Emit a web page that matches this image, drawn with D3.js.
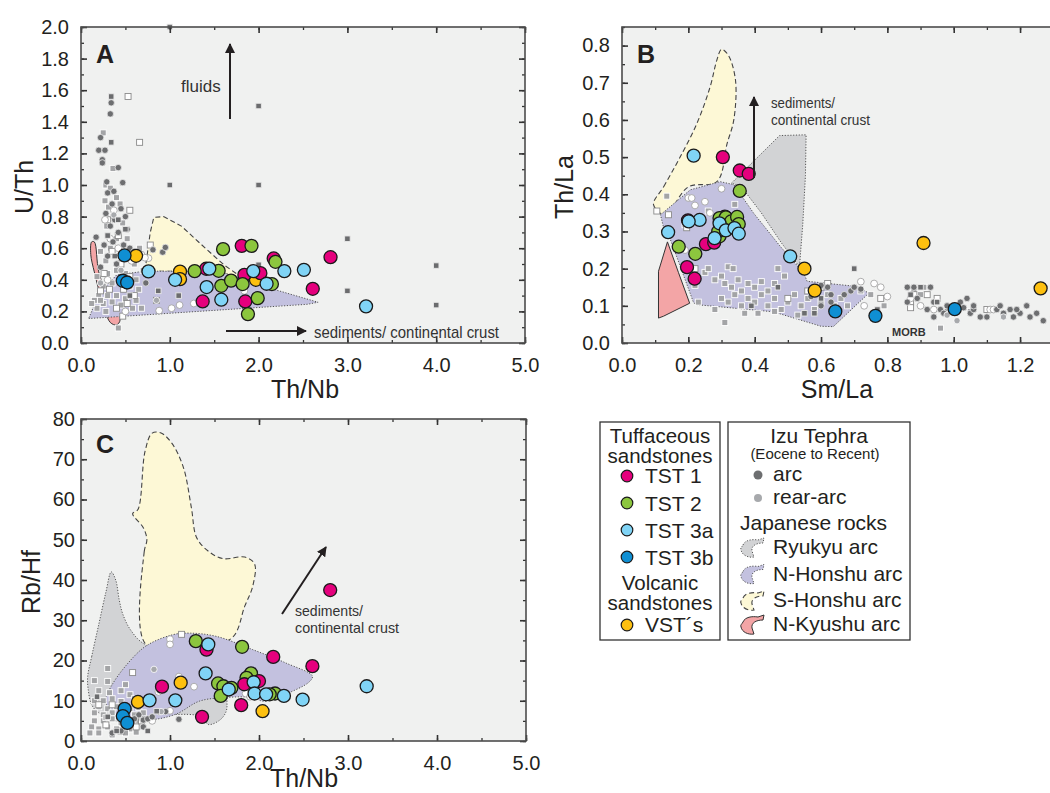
<!DOCTYPE html>
<html lang="en">
<head>
<meta charset="UTF-8">
<title>Izu tephra / sandstones ratio plots</title>
<script src="https://d3js.org/d3.v7.min.js"></script>
<style>
  body { margin: 0; background: #fff; }
  svg { font-family: "Liberation Sans", Arial, sans-serif; }
  .tick line { stroke: #333; }
</style>
</head>
<body>
<svg id="fig" width="1050" height="793"></svg>
<script>
// ---------- panel A : Th/Nb vs U/Th ----------
const tst1A = [[1.81,0.615],[2.17,0.535],[2.81,0.543],[1.84,0.431],[2.02,0.442],[2.61,0.343],[1.37,0.263],[1.85,0.263],[1.41,0.47]];
const tst2A = [[1.60,0.594],[1.92,0.615],[2.19,0.514],[1.28,0.455],[1.55,0.457],[1.58,0.362],[1.69,0.395],[1.82,0.373],[2.15,0.373],[1.99,0.284],[1.88,0.183]];
const tst3aA = [[0.76,0.453],[1.06,0.40],[1.445,0.471],[1.415,0.354],[1.58,0.274],[1.94,0.455],[2.09,0.375],[2.29,0.455],[2.51,0.463],[3.21,0.232]];
const tst3bA = [[0.49,0.554],[0.47,0.394],[0.52,0.383]];
const vstA = [[0.62,0.552],[1.115,0.452],[1.115,0.404],[1.97,0.40]];
const arcA = [[0.33,1.45],[0.34,1.52],[0.20,1.22],[0.27,1.22],[0.24,1.16],[0.24,1.14],[0.22,1.30],[0.42,1.11],[0.47,1.015],[0.17,0.67],[0.92,0.575],[0.95,0.605],[0.81,0.59],[0.73,0.38],[0.30,0.95],[0.35,0.88],[0.28,0.82],[0.38,0.78],[0.45,0.85],[0.33,0.74],[0.42,0.70],[0.26,0.62],[0.36,0.64],[0.48,0.62],[0.30,0.55],[0.40,0.50],[0.55,0.60],[0.22,0.48],[0.52,0.72],[0.29,1.02],[0.37,0.96],[0.60,0.58],[0.50,0.80]];
const rearA = [[0.85,0.27],[0.37,0.81],[0.22,0.38],[0.45,0.46]];
const sqDarkA = [[1.0,2.0],[2.0,1.5],[1.0,1.0],[2.0,1.0],[3.0,0.66],[4.0,0.49],[3.0,0.33],[4.0,0.24],[2.0,0.495],[0.34,1.56],[0.34,1.27],[0.87,0.33],[1.1,0.30],[0.50,0.72],[0.42,0.78],[0.30,0.68],[0.45,0.38],[0.55,0.30],[0.38,0.55]];
const sqLightA = [[0.25,1.33],[0.36,1.105],[0.42,0.095],[0.28,1.00],[0.33,0.98],[0.40,0.92],[0.27,0.90],[0.31,0.86],[0.44,0.88],[0.36,0.80],[0.47,0.76],[0.29,0.74],[0.40,0.66],[0.52,0.66],[0.33,0.60],[0.45,0.58],[0.22,0.58],[0.60,0.50],[0.28,0.52],[0.40,0.46],[0.50,0.44],[0.18,0.42],[0.30,0.44],[0.25,0.36],[0.35,0.38],[0.55,0.36],[0.62,0.40],[0.20,0.30],[0.30,0.30],[0.40,0.30],[0.50,0.28],[0.62,0.27],[0.15,0.27],[0.25,0.25],[0.35,0.26],[0.45,0.24],[0.58,0.22],[0.68,0.22],[0.18,0.22],[0.28,0.20],[0.66,0.60],[0.70,0.46],[0.65,0.34],[0.12,0.25],[0.22,0.27]];
const sqWhiteA = [[0.53,1.56],[0.66,1.27],[0.55,0.84],[0.47,0.17],[0.30,0.78],[0.42,0.68],[0.35,0.58],[0.26,0.44],[0.45,0.50],[0.55,0.42],[0.32,0.34],[0.48,0.34],[0.22,0.33],[0.60,0.30],[0.40,0.22],[0.52,0.25],[0.78,0.62],[0.85,0.27]];
const whiteA = [[1.02,0.22],[0.88,0.205],[1.11,0.24],[1.27,0.25],[0.76,0.537],[0.33,0.66],[0.42,0.60],[0.27,0.78],[0.37,0.84],[0.57,0.52],[0.68,0.56],[0.72,0.54],[0.30,0.40],[1.84,0.33],[0.50,0.20]];
const honshuNA = [[0.09,0.16],[0.2,0.31],[0.4,0.43],[0.72,0.455],[1.55,0.452],[1.75,0.42],[2.2,0.335],[2.67,0.258],[2.55,0.245],[0.09,0.155]];
const honshuSA = [[0.72,0.455],[0.78,0.70],[0.82,0.795],[0.93,0.80],[1.13,0.74],[1.4,0.6],[1.62,0.49],[1.8,0.42],[1.5,0.45]];
const kyushuA = [[0.12,0.64],[0.15,0.64],[0.2,0.45],[0.3,0.3],[0.44,0.145],[0.4,0.115],[0.33,0.13],[0.22,0.3],[0.15,0.45],[0.11,0.56]];

// ---------- panel B : Sm/La vs Th/La ----------
const tst1B = [[0.304,0.50],[0.355,0.464],[0.382,0.455],[0.253,0.266],[0.278,0.27],[0.199,0.33],[0.196,0.204],[0.219,0.173],[0.31,0.34]];
const tst2B = [[0.355,0.409],[0.171,0.259],[0.221,0.24],[0.294,0.336],[0.313,0.338],[0.329,0.327],[0.347,0.339],[0.352,0.32],[0.306,0.306],[0.294,0.287],[0.29,0.30]];
const tst3aB = [[0.216,0.504],[0.139,0.298],[0.234,0.331],[0.201,0.327],[0.294,0.322],[0.313,0.303],[0.339,0.309],[0.352,0.294],[0.279,0.282],[0.507,0.233]];
const tst3bB = [[0.643,0.085],[0.764,0.073],[1.003,0.091]];
const vstB = [[0.55,0.20],[0.581,0.141],[0.909,0.269],[1.262,0.147]];
const arcB = [[0.60,0.155],[0.62,0.15],[0.63,0.13],[0.60,0.10],[0.63,0.11],[0.67,0.13],[0.69,0.14],[0.70,0.15],[0.72,0.145],[0.57,0.125],[0.86,0.15],[0.88,0.15],[0.93,0.15],[0.86,0.11],[0.89,0.12],[0.92,0.09],[0.94,0.11],[0.96,0.09],[0.98,0.10],[1.0,0.10],[1.02,0.11],[1.03,0.095],[1.05,0.08],[1.06,0.09],[1.08,0.07],[1.04,0.12],[1.06,0.10],[1.13,0.09],[1.14,0.10],[1.15,0.08],[1.17,0.09],[1.18,0.07],[1.20,0.08],[1.22,0.10],[1.19,0.09],[1.23,0.07],[1.25,0.08],[1.27,0.06],[1.30,0.07],[1.10,0.07],[0.94,0.07],[0.97,0.08]];
const rearB = [[0.98,0.075],[1.01,0.06],[1.15,0.07]];
const sqDarkB = [[0.70,0.20],[0.39,0.10],[0.55,0.08],[0.58,0.08],[0.47,0.15],[0.87,0.13],[0.90,0.15],[0.95,0.11],[0.77,0.09],[0.60,0.12]];
const sqLightB = [[0.135,0.395],[0.34,0.373],[0.26,0.355],[0.19,0.318],[0.25,0.19],[0.26,0.20],[0.28,0.17],[0.32,0.205],[0.335,0.20],[0.30,0.18],[0.31,0.16],[0.33,0.15],[0.35,0.17],[0.36,0.14],[0.38,0.16],[0.40,0.15],[0.42,0.165],[0.44,0.14],[0.46,0.16],[0.47,0.20],[0.49,0.18],[0.30,0.12],[0.32,0.11],[0.34,0.13],[0.36,0.10],[0.38,0.12],[0.40,0.11],[0.42,0.13],[0.44,0.10],[0.46,0.12],[0.48,0.09],[0.50,0.11],[0.52,0.13],[0.54,0.10],[0.56,0.12],[0.58,0.09],[0.60,0.11],[0.62,0.13],[0.64,0.10],[0.66,0.12],[0.68,0.10],[0.72,0.14],[0.37,0.08],[0.41,0.08],[0.46,0.085],[0.53,0.075],[0.31,0.055],[0.28,0.09],[0.23,0.11],[0.22,0.155],[0.96,0.04],[0.98,0.085],[0.88,0.14],[0.90,0.13],[0.91,0.15],[0.75,0.13],[0.79,0.10],[1.05,0.085]];
const sqWhiteB = [[0.105,0.355],[0.14,0.345],[0.195,0.31],[0.20,0.20],[0.22,0.20],[0.62,0.16],[0.56,0.14],[0.87,0.11],[0.88,0.13],[0.92,0.13],[0.95,0.12],[0.87,0.095],[0.78,0.12],[0.60,0.15],[0.50,0.12],[1.10,0.09]];
const whiteB = [[0.30,0.415],[0.20,0.39],[0.21,0.39],[0.22,0.37],[0.25,0.38],[0.265,0.35],[0.19,0.25],[0.72,0.165],[0.76,0.16],[0.78,0.15],[0.80,0.125],[0.73,0.10],[0.87,0.12],[0.90,0.10],[0.94,0.09],[1.11,0.09],[1.12,0.09],[0.99,0.085]];
const honshuSB = [[0.095,0.372],[0.126,0.421],[0.171,0.493],[0.226,0.591],[0.266,0.69],[0.286,0.761],[0.30,0.79],[0.32,0.775],[0.342,0.708],[0.337,0.60],[0.317,0.537],[0.286,0.434],[0.2,0.42],[0.13,0.345]];
const ryukyuB = [[0.33,0.43],[0.475,0.558],[0.555,0.56],[0.553,0.45],[0.545,0.32],[0.535,0.205],[0.48,0.27],[0.42,0.35],[0.36,0.42]];
const honshuNB = [[0.116,0.345],[0.206,0.412],[0.296,0.434],[0.337,0.426],[0.397,0.349],[0.477,0.26],[0.548,0.188],[0.558,0.166],[0.709,0.152],[0.744,0.134],[0.637,0.044],[0.60,0.045],[0.456,0.084],[0.227,0.103],[0.216,0.108],[0.146,0.278],[0.125,0.312]];
const kyushuB = [[0.137,0.272],[0.11,0.193],[0.11,0.067],[0.125,0.072],[0.204,0.107],[0.17,0.19]];

// ---------- panel C : Th/Nb vs Rb/Hf ----------
const tst1C = [[2.80,37.5],[2.16,20.9],[2.60,18.6],[1.41,22.7],[0.91,13.5],[1.835,14.1],[2.0,14.9],[1.80,8.9],[1.36,6.0]];
const tst2C = [[1.29,24.8],[1.81,23.4],[1.91,16.8],[1.86,15.7],[1.54,14.3],[1.60,13.6],[1.69,13.2],[1.57,11.2],[2.18,11.8],[2.12,11.6]];
const tst3aC = [[1.43,24.0],[1.40,16.8],[1.66,12.8],[1.94,14.6],[1.95,11.8],[2.08,11.6],[2.28,11.2],[2.49,10.3],[3.21,13.6],[0.77,10.1],[1.06,10.1]];
const tst3bC = [[0.49,8.0],[0.47,6.2],[0.52,4.5]];
const vstC = [[0.64,9.7],[1.12,14.5],[2.04,7.4]];
const arcC = [[0.35,2],[0.45,2.5],[0.55,4],[0.65,6.5],[0.70,5.2],[0.75,5.5],[0.80,6],[0.88,7.2],[0.95,7.3],[1.10,5.4],[0.60,5.5],[0.70,3.5]];
const rearC = [[0.82,17.8],[0.88,12.5],[0.90,7.3]];
const sqDarkC = [[0.40,2.5],[0.75,2.5],[0.85,7.4],[0.18,11],[0.30,6]];
const sqLightC = [[0.30,18],[0.15,15],[0.30,14.8],[0.50,14],[0.20,12.5],[0.32,12],[0.45,12.5],[0.55,11.5],[0.15,10],[0.25,10],[0.35,10.5],[0.45,9.8],[0.60,10.5],[0.20,8.5],[0.30,8],[0.40,8.5],[0.55,8],[0.65,8.3],[0.15,7],[0.25,6.5],[0.35,7],[0.50,7],[0.60,6.5],[0.70,7],[0.15,5],[0.25,5],[0.35,5.5],[0.45,4.5],[0.55,4.5],[0.65,5],[0.12,3.5],[0.20,3],[0.30,3.5],[0.40,3],[0.55,3],[0.10,2],[0.20,2],[0.35,1.5],[0.50,2],[0.62,2.2],[0.28,5.8],[0.42,6]];
const sqWhiteC = [[1.13,26.5],[0.58,17],[0.50,7],[0.20,9],[0.35,9],[0.28,4],[0.45,2.5],[0.62,3.5],[0.68,5]];
const whiteC = [[1.0,25.3],[1.0,24],[1.1,16],[1.27,13.5],[0.87,12.2],[1.0,7.5],[0.70,5.3],[0.80,5],[1.85,11.8],[1.90,11]];
const honshuSC = [[0.73,24],[0.71,47],[0.74,50],[0.70,53],[0.58,56.5],[0.64,57.5],[0.72,72],[0.80,76.5],[0.90,76.5],[1.02,74],[1.15,68],[1.24,58],[1.30,50.5],[1.44,47],[1.60,45.3],[1.84,45.7],[1.95,44],[1.93,38.5],[1.84,33.5],[1.69,25.5],[1.2,24]];
const ryukyuC = [[0.075,16],[0.12,21],[0.2,29],[0.28,37],[0.34,42],[0.39,40],[0.43,35],[0.47,31.5],[0.56,27.5],[0.72,24],[1.2,22],[1.6,20],[1.64,10],[1.63,7.3],[1.56,5.2],[1.43,4.1],[1.36,6],[1.0,6.5],[0.5,4.5],[0.2,7],[0.12,9],[0.08,13]];
const honshuNC = [[0.34,13.6],[0.5,18.6],[0.73,23.6],[1.03,26.4],[1.22,26.8],[1.52,26],[1.93,22.7],[2.3,19.4],[2.6,16.1],[2.56,14.6],[2.34,12],[2.15,10.3],[2.04,9.9],[1.93,10.8],[1.62,10.8],[1.33,9.9],[1.08,6.8],[0.84,5.4],[0.58,5.2],[0.34,7],[0.28,10.3]];

const legendSamples = ["TST 1", "TST 2", "TST 3a", "TST 3b", "VST´s"];
const legendRocks = ["Ryukyu arc", "N-Honshu arc", "S-Honshu arc", "N-Kyushu arc"];

const col = { tst1: "#e5007d", tst2: "#8cc63e", tst3a: "#80d4f6", tst3b: "#0f8fd3", vst: "#fdc010",
              arc: "#6d6e70", rear: "#a7a9ac", bg: "#f0f1f0", ink: "#231f20",
              ryukyu: "#d2d3d5", honshuN: "#c3c1df", honshuS: "#fdf8d6", kyushu: "#f3a5a6" };
const zone = {
  ryukyu:  { fill: col.ryukyu,  stroke: "#555", dash: "1.2,1.6", w: 1 },
  honshuN: { fill: col.honshuN, stroke: "#555", dash: "1.2,1.6", w: 1 },
  honshuS: { fill: col.honshuS, stroke: "#444", dash: "5,3", w: 1.1 },
  kyushu:  { fill: col.kyushu,  stroke: "#333", dash: null, w: 1 }
};

const svg = d3.select("#fig");
svg.append("defs").append("marker")
  .attr("id", "head").attr("viewBox", "0 0 10 10").attr("refX", 9).attr("refY", 5)
  .attr("markerWidth", 5).attr("markerHeight", 5).attr("markerUnits", "strokeWidth")
  .attr("orient", "auto")
  .append("path").attr("d", "M0,0 L10,5 L0,10 Z").attr("fill", col.ink);

const panels = [
  { name: "A", xd: [0, 5], yd: [0, 2], xr: [81, 525], yr: [343, 27], xLab: 5,
    xMaj: 1, xMin: 0.5, yMaj: 0.2, yMin: 0.1, yFmt: ".1f", yPad: 12,
    xTitle: "Th/Nb", xT: [305, 398], yTitle: "U/Th", yT: [33, 187],
    zones: [["honshuS", honshuSA, d3.curveLinearClosed], ["kyushu", kyushuA, d3.curveCatmullRomClosed], ["honshuN", honshuNA, d3.curveLinearClosed]],
    bgPts: { arc: arcA, rear: rearA, sqD: sqDarkA, sqL: sqLightA, sqW: sqWhiteA, wc: whiteA },
    pts: [vstA, tst3bA, tst1A, tst2A, tst3aA], letter: [96, 63] },
  { name: "B", xd: [0, 1.4], yd: [0, 0.85], xr: [622, 1086.4], yr: [343, 27], xLab: 1.2,
    xMaj: 0.2, xMin: 0.1, yMaj: 0.1, yMin: 0.05, yFmt: ".1f", yPad: 12,
    xTitle: "Sm/La", xT: [837, 398], yTitle: "Th/La", yT: [573, 187],
    zones: [["honshuS", honshuSB, d3.curveCatmullRomClosed], ["ryukyu", ryukyuB, d3.curveLinearClosed], ["honshuN", honshuNB, d3.curveLinearClosed], ["kyushu", kyushuB, d3.curveLinearClosed]],
    bgPts: { arc: arcB, rear: rearB, sqD: sqDarkB, sqL: sqLightB, sqW: sqWhiteB, wc: whiteB },
    pts: [tst1B, tst2B, tst3aB, tst3bB, vstB], letter: [637, 63] },
  { name: "C", xd: [0, 5], yd: [0, 80], xr: [81, 526], yr: [741, 419], xLab: 5,
    xMaj: 1, xMin: 0.5, yMaj: 10, yMin: 5, yFmt: "d", yPad: 6,
    xTitle: "Th/Nb", xT: [304, 787], yTitle: "Rb/Hf", yT: [40, 582],
    zones: [["ryukyu", ryukyuC, d3.curveCatmullRomClosed], ["honshuS", honshuSC, d3.curveCatmullRomClosed], ["honshuN", honshuNC, d3.curveCatmullRomClosed]],
    bgPts: { arc: arcC, rear: rearC, sqD: sqDarkC, sqL: sqLightC, sqW: sqWhiteC, wc: whiteC },
    pts: [tst3bC, vstC, tst2C, tst1C, tst3aC], letter: [96, 453] }
];
const ptColors = { A: [col.vst, col.tst3b, col.tst1, col.tst2, col.tst3a],
                   B: [col.tst1, col.tst2, col.tst3a, col.tst3b, col.vst],
                   C: [col.tst3b, col.vst, col.tst2, col.tst1, col.tst3a] };

function styleAxis(sel, size) {
  sel.attr("font-size", null).attr("font-family", null);
  sel.select(".domain").remove();
  sel.selectAll(".tick line").attr("stroke", "#333").attr("stroke-width", size);
  sel.selectAll(".tick text").attr("font-size", 20).attr("fill", col.ink);
}

panels.forEach(p => {
  const x = d3.scaleLinear(p.xd, p.xr);
  const y = d3.scaleLinear(p.yd, p.yr);
  const g = svg.append("g");
  const [x0, x1] = p.xr, [y0, y1] = p.yr;

  g.append("rect").attr("x", x0).attr("y", y1).attr("width", x1 - x0).attr("height", y0 - y1)
    .attr("fill", col.bg);

  // rock fields
  p.zones.forEach(([k, pts, curve]) => {
    const z = zone[k];
    g.append("path").attr("d", d3.line().x(d => x(d[0])).y(d => y(d[1])).curve(curve)(pts))
      .attr("fill", z.fill).attr("stroke", z.stroke).attr("stroke-width", z.w)
      .attr("stroke-dasharray", z.dash);
  });

  // Izu tephra background data
  const b = p.bgPts;
  const sq = (data, fill, stroke, s) => g.append("g").selectAll("rect").data(data).join("rect")
      .attr("x", d => x(d[0]) - s / 2).attr("y", d => y(d[1]) - s / 2)
      .attr("width", s).attr("height", s)
      .attr("fill", fill).attr("stroke", stroke).attr("stroke-width", 0.9);
  const dot = (data, fill, stroke, r) => g.append("g").selectAll("circle").data(data).join("circle")
      .attr("cx", d => x(d[0])).attr("cy", d => y(d[1])).attr("r", r)
      .attr("fill", fill).attr("stroke", stroke).attr("stroke-width", 0.8);
  sq(b.sqL, "#a3a4a6", "#fff", 6);
  sq(b.sqW, "#fff", "#8a8a8a", 6);
  dot(b.wc, "#fff", "#9a9a9a", 3.4);
  dot(b.arc, col.arc, "#e8e8e8", 3.2);
  dot(b.rear, col.rear, "#fff", 3.2);
  sq(b.sqD, "#6b6c6e", "#e8e8e8", 5.5);

  // sandstone samples
  p.pts.forEach((data, i) => {
    g.append("g").selectAll("circle").data(data).join("circle")
      .attr("cx", d => x(d[0])).attr("cy", d => y(d[1])).attr("r", 6.5)
      .attr("fill", ptColors[p.name][i]).attr("stroke", "#1a1a1a").attr("stroke-width", 1.3);
  });

  // axes, ticks pointing inward on all four sides
  const xMaj = d3.range(p.xd[0], p.xd[1] + 1e-9, p.xMaj);
  const xLab = d3.range(p.xd[0], p.xLab + 1e-9, p.xMaj);
  const xMin = d3.range(p.xd[0], p.xd[1] + 1e-9, p.xMin);
  const yMaj = d3.range(p.yd[0], p.yd[1] + 1e-9, p.yMaj);
  const yMin = d3.range(p.yd[0], p.yd[1] + 1e-9, p.yMin);
  const fx = d3.format(".1f"), fy = d3.format(p.yFmt);

  g.append("g").attr("transform", `translate(0,${y0})`)
    .call(d3.axisBottom(x).tickValues(xMin).tickSize(-3).tickFormat("")).call(s => styleAxis(s, 1.3));
  g.append("g").attr("transform", `translate(0,${y0})`)
    .call(d3.axisBottom(x).tickValues(xLab).tickSize(-6).tickPadding(15).tickFormat(fx)).call(s => styleAxis(s, 1.6));
  g.append("g").attr("transform", `translate(0,${y1})`)
    .call(d3.axisTop(x).tickValues(xMin).tickSize(-3).tickFormat("")).call(s => styleAxis(s, 1.3));
  g.append("g").attr("transform", `translate(0,${y1})`)
    .call(d3.axisTop(x).tickValues(xMaj).tickSize(-6).tickFormat("")).call(s => styleAxis(s, 1.6));
  g.append("g").attr("transform", `translate(${x0},0)`)
    .call(d3.axisLeft(y).tickValues(yMin).tickSize(-3).tickFormat("")).call(s => styleAxis(s, 1.3));
  g.append("g").attr("transform", `translate(${x0},0)`)
    .call(d3.axisLeft(y).tickValues(yMaj).tickSize(-6).tickPadding(p.yPad).tickFormat(fy)).call(s => styleAxis(s, 1.6));
  g.append("g").attr("transform", `translate(${x1},0)`)
    .call(d3.axisRight(y).tickValues(yMin).tickSize(-3).tickFormat("")).call(s => styleAxis(s, 1.3));
  g.append("g").attr("transform", `translate(${x1},0)`)
    .call(d3.axisRight(y).tickValues(yMaj).tickSize(-6).tickFormat("")).call(s => styleAxis(s, 1.6));

  g.append("rect").attr("x", x0).attr("y", y1).attr("width", x1 - x0).attr("height", y0 - y1)
    .attr("fill", "none").attr("stroke", "#4d4d4d").attr("stroke-width", 1.6);

  g.append("text").attr("x", p.xT[0]).attr("y", p.xT[1]).attr("text-anchor", "middle")
    .attr("font-size", 25).attr("fill", col.ink).text(p.xTitle);
  g.append("text").attr("transform", `translate(${p.yT[0]},${p.yT[1]}) rotate(-90)`)
    .attr("text-anchor", "middle").attr("font-size", 25).attr("fill", col.ink).text(p.yTitle);
  g.append("text").attr("x", p.letter[0]).attr("y", p.letter[1])
    .attr("font-size", 25).attr("font-weight", "bold").attr("fill", col.ink).text(p.name);
});

// annotations
const note = (x, y, t, size, len) => {
  const el = svg.append("text").attr("x", x).attr("y", y).attr("font-size", size).attr("fill", "#333").text(t);
  if (len) el.attr("textLength", len).attr("lengthAdjust", "spacingAndGlyphs");
};
const arrow = (x1, y1, x2, y2) => svg.append("line").attr("x1", x1).attr("y1", y1).attr("x2", x2).attr("y2", y2)
  .attr("stroke", col.ink).attr("stroke-width", 2).attr("marker-end", "url(#head)");

note(181, 92, "fluids", 17);
arrow(230, 119, 230, 44);
note(314, 338, "sediments/ continental crust", 17, 185);
arrow(226, 331, 306, 331);

note(771, 108, "sediments/", 15, 64);
note(771, 125, "continental crust", 15, 99);
arrow(754, 178, 754, 97);
svg.append("text").attr("x", 892).attr("y", 336).attr("font-size", 11).attr("font-weight", "bold")
  .attr("fill", "#333").text("MORB");

note(295, 616, "sediments/", 15, 68);
note(295, 633, "continental crust", 15, 104);
arrow(282, 614, 326, 547);

// legend
const lg = svg.append("g");
lg.append("rect").attr("x", 600).attr("y", 422).attr("width", 120).attr("height", 218)
  .attr("fill", "#fff").attr("stroke", "#333").attr("stroke-width", 1.3);
lg.append("rect").attr("x", 728).attr("y", 422).attr("width", 182).attr("height", 218)
  .attr("fill", "#fff").attr("stroke", "#333").attr("stroke-width", 1.3);
const lt = (x, y, t, size, anchor) => lg.append("text").attr("x", x).attr("y", y)
  .attr("font-size", size).attr("text-anchor", anchor || "start").attr("fill", col.ink).text(t);

lt(660, 443, "Tuffaceous", 20.5, "middle");
lt(660, 463, "sandstones", 20.5, "middle");
lt(660, 590, "Volcanic", 20.5, "middle");
lt(660, 610, "sandstones", 20.5, "middle");
const sampleRows = [[483, 476], [511, 503], [537.5, 530], [564.5, 557], [632, 625]];
const sampleCols = [col.tst1, col.tst2, col.tst3a, col.tst3b, col.vst];
legendSamples.forEach((t, i) => {
  lg.append("circle").attr("cx", 627).attr("cy", sampleRows[i][1]).attr("r", 5.8)
    .attr("fill", sampleCols[i]).attr("stroke", "#1a1a1a").attr("stroke-width", 1.2);
  lt(645, sampleRows[i][0], t, 21);
});

lt(819, 443, "Izu Tephra", 21, "middle");
lt(815, 459, "(Eocene to Recent)", 15, "middle");
lg.append("circle").attr("cx", 758).attr("cy", 475).attr("r", 4.5).attr("fill", col.arc);
lt(773, 481, "arc", 21);
lg.append("circle").attr("cx", 758).attr("cy", 498).attr("r", 4).attr("fill", col.rear);
lt(773, 504, "rear-arc", 21);
lt(740, 530, "Japanese rocks", 21);
const blob = "M3,7 C5,2 12,1 18,2 L24,0 L23,5 C16,5 11,8 12,13 L14,19 C8,20 2,17 1,12 C0,10 2,9 3,7 Z";
const rockRows = [554, 580.5, 607, 631];
const rockKeys = ["ryukyu", "honshuN", "honshuS", "kyushu"];
legendRocks.forEach((t, i) => {
  const z = zone[rockKeys[i]];
  lg.append("path").attr("d", blob).attr("transform", `translate(740,${rockRows[i] - 16})`)
    .attr("fill", z.fill).attr("stroke", z.stroke).attr("stroke-width", z.w).attr("stroke-dasharray", z.dash);
  lt(773, rockRows[i], t, 21);
});
</script>
</body>
</html>
